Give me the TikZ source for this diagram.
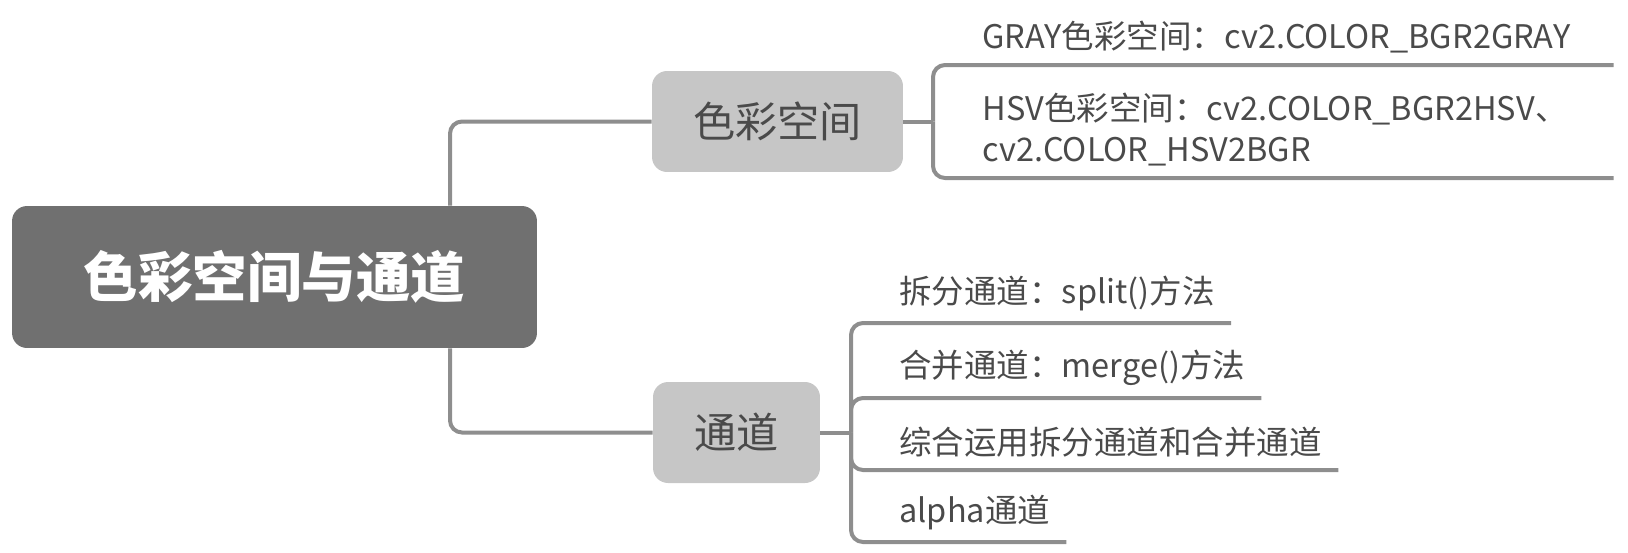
\documentclass[tikz,border=0pt]{standalone}
\usepackage{fontspec}
\setmainfont{Noto Sans CJK SC}
\usetikzlibrary{positioning}
\definecolor{rootgray}{HTML}{707070}
\definecolor{subgray}{HTML}{C6C6C6}
\definecolor{linkgray}{HTML}{8E8E8E}
\definecolor{textgray}{HTML}{4A4A4A}
\begin{document}
\begin{tikzpicture}[x=0.02cm, y=-0.02cm,
  rootbox/.style={fill=rootgray, rounded corners=0.3cm, text=white, font=\bfseries\fontsize{31}{36}\selectfont, minimum width=10.5cm, minimum height=2.84cm},
  subbox/.style={fill=subgray, rounded corners=0.3cm, text=textgray, font=\fontsize{24}{28}\selectfont, minimum height=2.02cm},
  leaf/.style={anchor=south west, inner xsep=0.32cm, inner ysep=0.24cm, text=textgray, font=\fontsize{18.5}{23.3}\selectfont, align=left},
  link/.style={draw=linkgray, line width=0.08cm, rounded corners=0.24cm}]
\useasboundingbox (0,0) rectangle (1628,552);
\node[rootbox] (root) at (274.5,277) {色彩空间与通道};
\node[subbox, minimum width=5.02cm] (space) at (777.5,121.5) {色彩空间};
\node[subbox, minimum width=3.34cm] (chan) at (736.5,432.5) {通道};
\coordinate (trunk) at (450,277);
\coordinate (jn1) at (933,121.5);
\coordinate (jn2) at (851,432.5);
% leaves of the upper branch
\node[leaf, text width=12.3cm] (gray) at (966,65) {GRAY色彩空间：cv2.COLOR\_BGR2GRAY};
\node[leaf, text width=12.3cm] (hsv) at (966,178) {HSV色彩空间：cv2.COLOR\_BGR2HSV、\\cv2.COLOR\_HSV2BGR};
% leaves of the lower branch
\node[leaf] (split) at (883,323) {拆分通道：split()方法};
\node[leaf] (merge) at (883,398) {合并通道：merge()方法};
\node[leaf] (both) at (883,470) {综合运用拆分通道和合并通道};
\node[leaf] (alpha) at (883,542) {alpha通道};
\draw[link] (root.north -| trunk) |- (space.west);
\draw[link] (root.south -| trunk) |- (chan.west);
\draw[link] (space.east) -- (jn1);
\draw[link] (chan.east) -- (jn2);
\foreach \leafname in {gray,hsv}
  \draw[link] (jn1) |- (\leafname.south west) -- (\leafname.south east);
\foreach \leafname in {split,merge,both,alpha}
  \draw[link] (jn2) |- (\leafname.south west) -- (\leafname.south east);
\end{tikzpicture}
\end{document}
